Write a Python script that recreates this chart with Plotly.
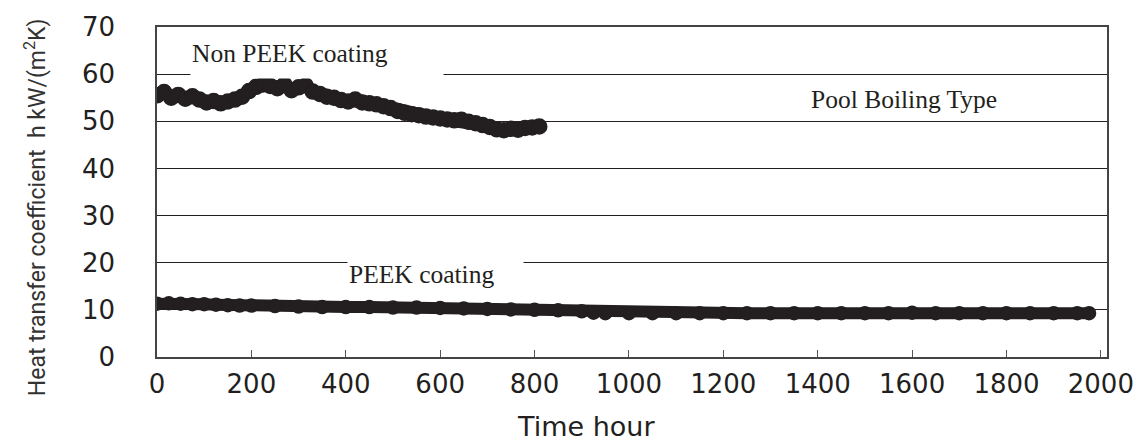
import plotly.graph_objects as go

# ---- data ----
non_peek_t = [0, 15, 30, 45, 60, 75, 90, 105, 120, 135, 150, 165, 180, 195, 210, 225, 240, 255,
              270, 285, 300, 315, 330, 345, 360, 375, 390, 405, 420, 435, 450, 465, 480, 495,
              510, 525, 540, 555, 570, 585, 600, 615, 630, 645, 660, 675, 690, 705, 720, 735,
              750, 765, 780, 795, 810]
non_peek_h = [55.5, 56.2, 55.0, 55.6, 54.8, 55.3, 54.6, 54.0, 54.3, 53.8, 54.2, 54.6, 55.2, 56.4,
              57.3, 57.8, 57.5, 57.0, 57.8, 56.6, 57.2, 57.6, 56.3, 55.8, 55.2, 55.0, 54.5, 54.2,
              54.6, 54.0, 53.8, 53.6, 53.2, 52.8, 52.2, 51.8, 51.5, 51.3, 51.0, 50.8, 50.6, 50.4,
              50.2, 50.3, 49.9, 49.6, 49.2, 48.8, 48.3, 48.1, 48.4, 48.2, 48.6, 48.7, 48.9]

peek_t = [0, 25, 50, 75, 100, 125, 150, 175, 200, 250, 300, 350, 400, 450, 500, 550, 600, 650,
          700, 750, 800, 850, 900, 925, 950, 1000, 1050, 1100, 1150, 1200, 1250, 1300, 1350,
          1400, 1450, 1500, 1550, 1600, 1650, 1700, 1750, 1800, 1850, 1900, 1950, 1975]
peek_h = [11.3, 11.4, 11.3, 11.2, 11.2, 11.1, 11.0, 10.9, 10.9, 10.8, 10.7, 10.6, 10.6, 10.6,
          10.5, 10.5, 10.4, 10.3, 10.2, 10.1, 10.0, 9.9, 9.7, 9.4, 9.3, 9.3, 9.3, 9.3, 9.3, 9.3,
          9.3, 9.3, 9.3, 9.3, 9.3, 9.3, 9.3, 9.4, 9.3, 9.3, 9.3, 9.3, 9.3, 9.3, 9.3, 9.3]

x_ticks = list(range(0, 2001, 200))
y_ticks = list(range(0, 71, 10))

INK = "#231f20"
SANS = "DejaVu Sans"
SERIF = "Liberation Serif"
NARROW = "Roboto"

fig = go.Figure()
for t, h, msize, lw in [(non_peek_t, non_peek_h, 15, 13), (peek_t, peek_h, 13, 12)]:
    fig.add_trace(go.Scatter(
        x=t, y=h, mode="lines+markers",
        line=dict(color=INK, width=lw),
        marker=dict(symbol="circle", size=msize, color=INK, line=dict(width=1.5, color=INK)),
        showlegend=False, hoverinfo="skip"))

fig.update_layout(
    width=1146, height=441,
    margin=dict(l=157, r=38, t=24, b=84),
    paper_bgcolor="white", plot_bgcolor="white",
    font=dict(family=SANS, color=INK),
    showlegend=False,
)
fig.update_xaxes(
    range=[0, 2013], tickvals=x_ticks, ticktext=[str(v) for v in x_ticks],
    ticks="inside", ticklen=7, tickcolor="#555", tickwidth=1.3,
    showgrid=False, zeroline=False,
    showline=True, linecolor="#444", linewidth=1.5, mirror=True,
    tickfont=dict(family=SANS, size=26, color=INK), ticklabelstandoff=3,
)
fig.update_yaxes(
    range=[0, 70], tickvals=y_ticks, ticktext=[str(v) for v in y_ticks],
    ticks="", showgrid=True, gridcolor=INK, gridwidth=1.2,
    zeroline=False, showline=True, linecolor="#444", linewidth=1.5, mirror=True,
    tickfont=dict(family=SANS, size=26, color=INK), ticklabelstandoff=35,
)

# axis titles
fig.add_annotation(text="Heat transfer coefficient  h kW/(m<sup>2</sup>K)",
                   xref="paper", yref="paper", x=-0.127, y=0.455, textangle=-90,
                   showarrow=False, xanchor="center", yanchor="middle",
                   font=dict(family=NARROW, size=23, color="#333"))
fig.add_annotation(text="Time hour", xref="paper", yref="paper", x=0.452, y=-0.21,
                   showarrow=False, xanchor="center", yanchor="middle",
                   font=dict(family=SANS, size=27, color=INK))

# in-plot labels (white boxes break the grid lines)
fig.add_annotation(text="Non PEEK coating", x=70, y=64.5, xref="x", yref="y",
                   xanchor="left", yanchor="middle", showarrow=False,
                   width=250, height=48, align="left", valign="middle",
                   bgcolor="white", font=dict(family=SERIF, size=25.5, color=INK))
fig.add_annotation(text="PEEK coating", x=403, y=17.6, xref="x", yref="y",
                   xanchor="left", yanchor="middle", showarrow=False,
                   width=173, height=32, align="left", valign="middle",
                   bgcolor="white", font=dict(family=SERIF, size=25.5, color=INK))
fig.add_annotation(text="Pool Boiling Type", x=1583, y=54.6, xref="x", yref="y",
                   xanchor="center", yanchor="middle", showarrow=False,
                   font=dict(family=SERIF, size=25.5, color=INK))

fig.write_html("out.html", post_script="document.body.style.margin='0px';",
               config={"displayModeBar": False})
